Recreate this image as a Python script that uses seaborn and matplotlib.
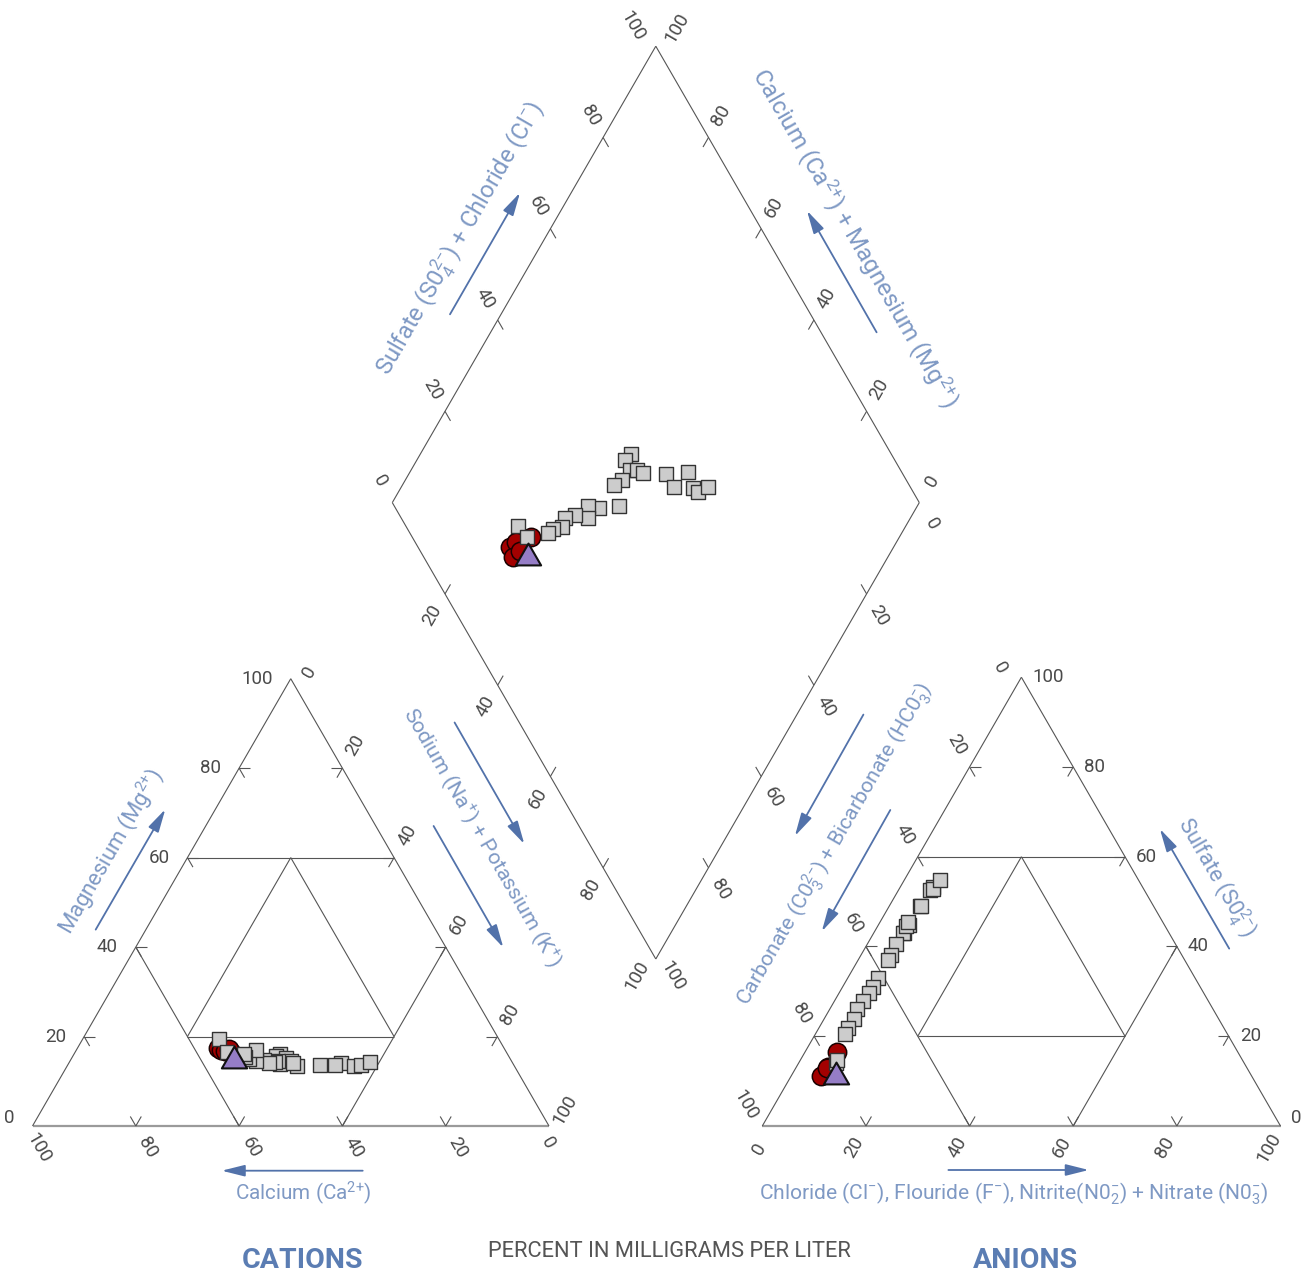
import numpy as np
import pandas as pd
import matplotlib
matplotlib.use("Agg")
import matplotlib.pyplot as plt
from matplotlib.path import Path
import seaborn as sns

# ---------------- data (percent in milligrams per liter) ----------------
sample_kind = (["square"] * 24) + (["circle"] * 5) + ["triangle"]
# cations
na_k = [40.0, 39.4, 41.5, 42.8, 44.4, 41.1, 40.2, 48.8, 52.7, 51.7, 55.5, 56.8,
        58.2, 43.4, 39.8, 37.5, 38.8, 36.0, 34.5, 34.9, 33.3, 32.9, 26.4, 29.4,
        27.2, 27.9, 30.2, 28.9, 29.5, 31.3]
magnesium = [16.0, 15.6, 15.2, 14.5, 13.5, 13.8, 14.6, 13.7, 14.1, 13.7, 13.4, 13.6,
             14.3, 14.1, 14.2, 14.8, 14.0, 14.5, 15.0, 16.9, 15.5, 16.0, 19.4, 16.5,
             17.5, 17.0, 16.5, 16.8, 17.2, 15.4]
calcium = [44.0, 45.0, 43.3, 42.7, 42.1, 45.1, 45.2, 37.5, 33.2, 34.6, 31.1, 29.6,
           27.5, 42.5, 46.0, 47.7, 47.2, 49.5, 50.5, 48.2, 51.2, 51.1, 54.2, 54.1,
           55.3, 55.1, 53.3, 54.3, 53.3, 53.3]
# anions
chloride = [6.0, 5.8, 5.6, 5.4, 5.3, 5.6, 5.8, 6.0, 6.3, 6.1, 6.1, 6.5,
            6.9, 5.8, 5.8, 5.9, 5.8, 5.5, 5.2, 5.7, 5.7, 5.8, 7.2, 7.0,
            6.0, 6.1, 6.2, 5.8, 6.0, 8.4]
sulfate = [44.7, 43.0, 43.1, 44.5, 45.5, 40.5, 38.2, 49.0, 53.2, 49.1, 52.6, 52.7,
           54.8, 36.9, 32.9, 30.9, 29.7, 27.8, 26.0, 23.9, 21.8, 20.4, 14.1, 14.8,
           11.4, 13.1, 16.4, 11.1, 12.9, 11.7]
bicarbonate = [49.3, 51.2, 51.3, 50.1, 49.2, 53.9, 56.0, 45.0, 40.5, 44.8, 41.3, 40.8,
               38.3, 57.3, 61.3, 63.2, 64.5, 66.7, 68.8, 70.4, 72.5, 73.8, 78.7, 78.2,
               82.6, 80.8, 77.4, 83.1, 81.1, 79.9]
tick_values = [0, 20, 40, 60, 80, 100]

# ---------------- style ----------------
sns.set_style("white")
plt.rcParams["font.family"] = ["Roboto", "DejaVu Sans"]
plt.rcParams["mathtext.default"] = "regular"

LINE = "#555555"
BASE = "#9a9a9a"
TICKLAB = "#4a4a4a"
LABBLUE = "#7f99c4"
ARROW = "#5272aa"
TITLEBLUE = "#5b7db3"

W, H = 1307, 1276
fig = plt.figure(figsize=(W / 100, H / 100), dpi=100)
ax = fig.add_axes([0, 0, 1, 1])
renderer = fig.canvas.get_renderer()
S3 = np.sqrt(3) / 2


def Y(yimg):
    return H - yimg


# layout (pixel units)
CAT_O, CAT_L = np.array([32.5, Y(1126)]), 516.5
AN_O, AN_L = np.array([762.3, Y(1126)]), 518.2
DIA_O, DIA_L = np.array([655.8, Y(959)]), 527.0


def tri_pt(origin, L, r, t):
    r = np.asarray(r, float); t = np.asarray(t, float)
    return origin[0] + L * (r + t / 2), origin[1] + L * t * S3


def dia_pt(a, b):
    a = np.asarray(a, float); b = np.asarray(b, float)
    return DIA_O[0] + DIA_L * 0.5 * (b - a), DIA_O[1] + DIA_L * S3 * (a + b)


def seg(p, q, **kw):
    ax.plot([p[0], q[0]], [p[1], q[1]], solid_capstyle="butt", **kw)


# ---------------- ternary frames ----------------
for O, L in [(CAT_O, CAT_L), (AN_O, AN_L)]:
    P = lambda r, t: tri_pt(O, L, r, t)
    seg(P(0, 0), P(1, 0), color=BASE, lw=1.6, zorder=2)
    seg(P(0, 0), P(0, 1), color=LINE, lw=0.8, zorder=2)
    seg(P(1, 0), P(0, 1), color=LINE, lw=0.8, zorder=2)
    for a, b in [((0, .4), (.4, 0)), ((.6, .4), (.6, 0)), ((0, .6), (.4, .6)),
                 ((.2, .2), (.6, .2)), ((.6, .2), (.2, .6)), ((.2, .6), (.2, .2))]:
        seg(P(*a), P(*b), color=LINE, lw=0.8, zorder=2)
    tl = 11
    for k in [0.2, 0.4, 0.6, 0.8]:
        for base, dirs in [(P(k, 0), [(-0.5, S3), (0.5, S3)]),
                           (P(0, k), [(1, 0), (0.5, -S3)]),
                           (P(1 - k, k), [(-1, 0), (-0.5, -S3)])]:
            for d in dirs:
                seg(base, (base[0] + tl * d[0], base[1] + tl * d[1]), color=LINE, lw=0.8, zorder=2)

# diamond frame
Dl, Dt, Dr, Db = dia_pt(1, 0), dia_pt(1, 1), dia_pt(0, 1), dia_pt(0, 0)
for p, q in [(Dl, Dt), (Dt, Dr), (Dr, Db), (Db, Dl)]:
    seg(p, q, color=LINE, lw=0.8, zorder=2)
for k in [0.2, 0.4, 0.6, 0.8]:
    for base, d in [(dia_pt(1, k), (0.5, -S3)), (dia_pt(k, 1), (-0.5, -S3)),
                    (dia_pt(k, 0), (0.5, S3)), (dia_pt(0, k), (-0.5, S3))]:
        seg(base, (base[0] + 11 * d[0], base[1] + 11 * d[1]), color=LINE, lw=0.8, zorder=2)

# ---------------- tick labels ----------------
def tlabel(x, y, s, rot=0, ha="center", off=(0, 0)):
    ax.text(x + off[0], y + off[1], s, fontsize=13.5, color=TICKLAB, ha=ha, va="center",
            rotation=rot, rotation_mode="anchor", zorder=3)


for v in tick_values:
    f = v / 100
    raise0 = 8 if v == 0 else 0
    # cations
    x, y = tri_pt(CAT_O, CAT_L, 0, f); tlabel(x, y, str(v), 0, "right", (-18, raise0))
    x, y = tri_pt(CAT_O, CAT_L, f, 1 - f)
    tlabel(x, y, str(v), 60, "center", (19, 7) if v == 0 else ((16, 16) if v == 100 else (13, 22.5)))
    x, y = tri_pt(CAT_O, CAT_L, 1 - f, 0)
    tlabel(x, y, str(v), -60, "center", (-1, -17) if v == 0 else ((6, -22) if v == 100 else (12, -21.5)))
    # anions
    x, y = tri_pt(AN_O, AN_L, 0, 1 - f)
    tlabel(x, y, str(v), -60, "center", (-21, 9) if v == 0 else ((-17, 21) if v == 100 else (-13, 22.5)))
    x, y = tri_pt(AN_O, AN_L, f, 0)
    tlabel(x, y, str(v), 60, "center", (-3, -23) if v == 0 else (-12, -21.5))
    x, y = tri_pt(AN_O, AN_L, 1 - f, f); tlabel(x, y, str(v), 0, "left", (11, raise0))
    # diamond
    d = 25
    x, y = dia_pt(1, f)
    tlabel(x, y, str(v), -60, "center", (-23, 20) if v == 100 else (-0.5 * d, S3 * d))
    x, y = dia_pt(f, 1)
    tlabel(x, y, str(v), 60, "center", (21, 18) if v == 100 else (0.5 * d, S3 * d))
    if v > 0:
        x, y = dia_pt(1 - f, 0)
        tlabel(x, y, str(v), 60, "center", (-19, -17) if v == 100 else (-0.5 * d, -S3 * d))
    x, y = dia_pt(0, 1 - f)
    tlabel(x, y, str(v), -60, "center", (17, -17) if v == 100 else (0.5 * d, -S3 * d))

# ---------------- axis titles and arrows ----------------
def fit_text(cx, cy, s, length, rot, size, color, maxf=1.12, va="center", **kw):
    t = ax.text(cx, Y(cy), s, fontsize=size, color=color, ha="center", va=va, **kw)
    w = t.get_window_extent(renderer).width
    t.set_fontsize(min(size * length / w, size * maxf))
    t.set_rotation(rot)
    t.set_rotation_mode("anchor")
    return t


def arrow(x0, y0, x1, y1):
    ax.annotate("", xy=(x1, Y(y1)), xytext=(x0, Y(y0)),
                arrowprops=dict(arrowstyle="-|>,head_length=1.0,head_width=0.25", color=ARROW,
                                lw=1.3, shrinkA=0, shrinkB=0, mutation_scale=14), zorder=3)


fit_text(111, 851, r"Magnesium (Mg$^{2{+}}$)", 186, 60, 16, LABBLUE)
arrow(95.7, 929.6, 165.3, 809.3)
fit_text(482, 837, r"Sodium (Na$^{+}$) + Potassium (K$^{+}$)", 296, -60, 16, LABBLUE)
arrow(454.6, 722.5, 524.3, 844)
arrow(433.6, 826, 503.3, 947.5)
fit_text(303.3, 1193, r"Calcium (Ca$^{2{+}}$)", 137, 0, 16, LABBLUE)
arrow(362.7, 1170.7, 221.7, 1170.7)
fit_text(835, 844, r"Carbonate (C0$_3^{2{-}}$) + Bicarbonate (HC0$_3^{-}$)", 370, 60, 16, LABBLUE)
arrow(863.4, 714.6, 794.9, 836)
arrow(890.3, 810, 821.8, 931.4)
fit_text(1216, 878, r"Sulfate (S0$_4^{2{-}}$)", 134, -60, 16, LABBLUE)
arrow(1229.2, 948.6, 1159.9, 828.9)
fit_text(1014, 1194, r"Chloride (Cl$^{-}$), Flouride (F$^{-}$), Nitrite(N0$_2^{-}$) + Nitrate (N0$_3^{-}$)",
         509, 0, 16, LABBLUE)
arrow(948.4, 1170, 1088.8, 1170)
fit_text(460.5, 238, r"Sulfate (S0$_4^{2{-}}$) + Chloride (Cl$^{-}$)", 311, 60, 16, LABBLUE)
arrow(450, 314.3, 520, 192.7)
fit_text(854.6, 237.5, r"Calcium (Ca$^{2{+}}$) + Magnesium (Mg$^{2{+}}$)", 388, -60, 16, LABBLUE)
arrow(876.6, 332.3, 807, 210.7)

fit_text(302.5, 1268, "CATIONS", 137, 0, 20.5, TITLEBLUE, maxf=1.0, va="baseline", fontweight="bold")
fit_text(1025, 1268, "ANIONS", 124, 0, 20.5, TITLEBLUE, maxf=1.0, va="baseline", fontweight="bold")
fit_text(669, 1257, "PERCENT IN MILLIGRAMS PER LITER", 362, 0, 14.5, "#555555", va="baseline")

# ---------------- data points ----------------
df = pd.DataFrame({"kind": sample_kind, "na": na_k, "mg": magnesium, "ca": calcium,
                   "cl": chloride, "so4": sulfate, "hco3": bicarbonate})
cx, cy = tri_pt(CAT_O, CAT_L, df["na"] / 100, df["mg"] / 100)
axx, ayy = tri_pt(AN_O, AN_L, df["cl"] / 100, df["so4"] / 100)
dx, dy = dia_pt((df["ca"] + df["mg"]) / 100, (df["so4"] + df["cl"]) / 100)
pts = pd.concat([
    pd.DataFrame({"x": cx, "y": cy, "kind": df["kind"]}),
    pd.DataFrame({"x": axx, "y": ayy, "kind": df["kind"]}),
    pd.DataFrame({"x": dx, "y": dy, "kind": df["kind"]}),
], ignore_index=True)

tri_marker = Path([(0, 0.433), (-0.5, -0.433), (0.5, -0.433), (0, 0.433)],
                  [Path.MOVETO, Path.LINETO, Path.LINETO, Path.CLOSEPOLY])
styles = [("circle", "o", 175, "#a30000", "#1a0000", 1.1, 5),
          ("square", "s", 105, "#cccccc", "#333333", 1.0, 6),
          ("triangle", tri_marker, 330, "#957dc6", "#111111", 1.5, 7)]
for kind, mk, size, fc, ec, lw, z in styles:
    sub = pts[pts["kind"] == kind]
    sns.scatterplot(data=sub, x="x", y="y", marker=mk, s=size, color=fc, edgecolor=ec,
                    linewidth=lw, ax=ax, legend=False, zorder=z)

ax.set_xlim(0, W)
ax.set_ylim(0, H)
ax.set_aspect("equal")
ax.axis("off")
fig.savefig("out.png", dpi=100, facecolor="white")
